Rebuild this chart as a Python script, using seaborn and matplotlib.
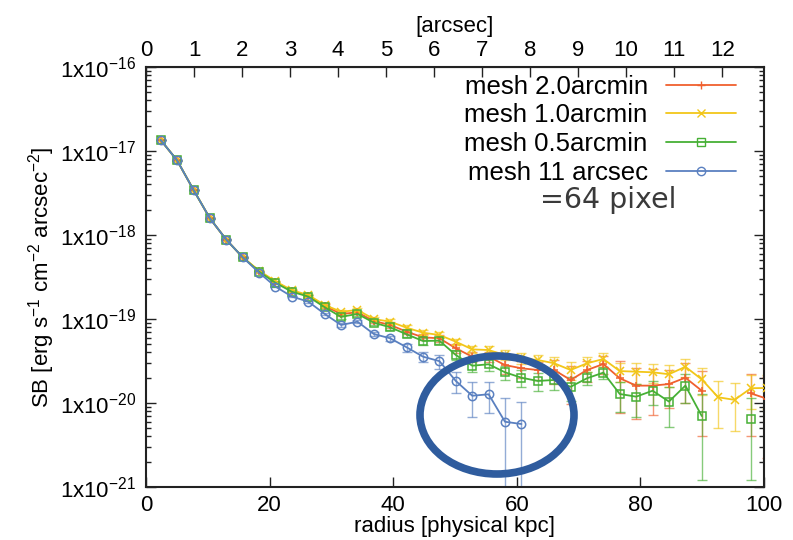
import numpy as np
import pandas as pd
import matplotlib
matplotlib.use('Agg')
import matplotlib.pyplot as plt
import seaborn as sns
from matplotlib.lines import Line2D
from matplotlib.patches import Ellipse
from matplotlib.ticker import FixedLocator, FuncFormatter, LogLocator, NullFormatter

nan = np.nan

# radius of each annulus [physical kpc]
radius = [2.38, 5.03, 7.69, 10.34, 12.99, 15.65, 18.30, 20.95, 23.60, 26.26,
          28.91, 31.56, 34.22, 36.87, 39.52, 42.18, 44.83, 47.48, 50.13, 52.79,
          55.44, 58.09, 60.75, 63.40, 66.05, 68.71, 71.36, 74.01, 76.66, 79.32,
          81.97, 84.62, 87.28, 89.93, 92.58, 95.24, 97.89, 100.54]

sb_2arcmin = [1.35e-17, 7.74e-18, 3.44e-18, 1.58e-18, 8.79e-19, 5.43e-19, 3.70e-19, 2.75e-19, 2.16e-19, 1.89e-19,
              1.43e-19, 1.15e-19, 1.20e-19, 9.46e-20, 8.49e-20, 7.06e-20, 6.05e-20, 5.89e-20, 4.48e-20, 3.56e-20,
              3.56e-20, 2.83e-20, 2.59e-20, 2.47e-20, 2.47e-20, 1.88e-20, 2.47e-20, 2.91e-20, 1.97e-20, 1.61e-20,
              1.61e-20, 1.68e-20, 2.00e-20, 1.40e-20, nan, nan, 1.30e-20, 1.12e-20]
err_2arcmin = [1.3e-19, 8e-20, 3.5e-20, 1.8e-20, 1.1e-20, 8e-21, 7e-21, 6e-21, 6e-21, 6e-21,
               6e-21, 6e-21, 6e-21, 6e-21, 6e-21, 5e-21, 5e-21, 5e-21, 5e-21, 5e-21,
               5e-21, 6e-21, 6e-21, 6e-21, 8e-21, 9e-21, 7e-21, 7e-21, 1.2e-20, 9.7e-21,
               9e-21, 8e-21, 1.0e-20, 1.0e-20, nan, nan, 9e-21, 9e-21]

sb_1arcmin = [1.35e-17, 7.74e-18, 3.44e-18, 1.58e-18, 8.79e-19, 5.43e-19, 3.76e-19, 2.81e-19, 2.20e-19, 1.93e-19,
              1.47e-19, 1.22e-19, 1.28e-19, 1.00e-19, 9.29e-20, 7.87e-20, 6.87e-20, 6.45e-20, 5.37e-20, 4.35e-20,
              4.27e-20, 3.73e-20, 3.40e-20, 3.25e-20, 2.97e-20, 2.47e-20, 2.97e-20, 3.34e-20, 2.40e-20, 2.36e-20,
              2.32e-20, 2.20e-20, 2.70e-20, 1.91e-20, 1.17e-20, 1.09e-20, 1.50e-20, 1.51e-20]
err_1arcmin = [1.3e-19, 8e-20, 3.5e-20, 1.8e-20, 1.1e-20, 8e-21, 7e-21, 6e-21, 6e-21, 6e-21,
               6e-21, 6e-21, 6e-21, 6e-21, 6e-21, 5e-21, 5e-21, 5e-21, 4.5e-21, 4.5e-21,
               5e-21, 5e-21, 5e-21, 5e-21, 6e-21, 6e-21, 6e-21, 6.3e-21, 6e-21, 6.6e-21,
               6e-21, 6.3e-21, 6.4e-21, 6.8e-21, 6.6e-21, 6.3e-21, 6.5e-21, 6.5e-21]

sb_05arcmin = [1.35e-17, 7.74e-18, 3.44e-18, 1.58e-18, 8.79e-19, 5.43e-19, 3.66e-19, 2.70e-19, 2.11e-19, 1.85e-19,
               1.38e-19, 1.06e-19, 1.15e-19, 9.04e-20, 7.96e-20, 6.57e-20, 5.47e-20, 5.52e-20, 3.73e-20, 2.78e-20,
               2.89e-20, 2.32e-20, 2.00e-20, 1.83e-20, 1.88e-20, 1.56e-20, 1.97e-20, 2.30e-20, 1.28e-20, 1.19e-20,
               1.40e-20, 1.04e-20, 1.61e-20, 7.0e-21, nan, nan, 6.4e-21, nan]
err_05arcmin = [1.3e-19, 8e-20, 3.5e-20, 1.8e-20, 1.1e-20, 8e-21, 7e-21, 6e-21, 6e-21, 6e-21,
                6e-21, 5e-21, 5e-21, 5e-21, 5e-21, 5e-21, 5e-21, 5e-21, 5e-21, 4.7e-21,
                4.7e-21, 4.5e-21, 4.5e-21, 4.5e-21, 4.5e-21, 5e-21, 3.5e-21, 3.5e-21, 5e-21, 5e-21,
                4.5e-21, 5.2e-21, 6.2e-21, 5.8e-21, nan, nan, 5.2e-21, nan]

sb_11arcsec = [1.35e-17, 7.74e-18, 3.44e-18, 1.58e-18, 8.79e-19, 5.43e-19, 3.56e-19, 2.43e-19, 1.85e-19, 1.61e-19,
               1.15e-19, 8.49e-20, 9.29e-20, 6.62e-20, 5.89e-20, 4.60e-20, 3.56e-20, 3.15e-20, 1.83e-20, 1.22e-20,
               1.27e-20, 5.98e-21, 5.62e-21, nan, nan, nan, nan, nan, nan, nan,
               nan, nan, nan, nan, nan, nan, nan, nan]
err_11arcsec = [1.3e-19, 8e-20, 3.5e-20, 1.6e-20, 9e-21, 6e-21, 5e-21, 4e-21, 4e-21, 4e-21,
                4e-21, 4e-21, 4e-21, 4e-21, 4.5e-21, 5e-21, 5e-21, 6e-21, 5.3e-21, 5.4e-21,
                5.2e-21, 5.4e-21, 4.7e-21, nan, nan, nan, nan, nan, nan, nan,
                nan, nan, nan, nan, nan, nan, nan, nan]

labels = ['mesh 2.0arcmin', 'mesh 1.0arcmin', 'mesh 0.5arcmin', 'mesh 11 arcsec']
colors = ['#f0602e', '#f2c619', '#46b035', '#5a80c0']
markers = ['+', 'x', 's', 'o']
kpc_per_arcsec = 7.77

sns.set_style('ticks')
plt.rcParams['font.family'] = ['Liberation Sans', 'DejaVu Sans']
plt.rcParams['mathtext.fontset'] = 'custom'
plt.rcParams['mathtext.rm'] = 'Liberation Sans'
plt.rcParams['mathtext.default'] = 'regular'
plt.rcParams['text.color'] = 'black'
plt.rcParams['axes.labelcolor'] = 'black'
plt.rcParams['xtick.color'] = 'black'
plt.rcParams['ytick.color'] = 'black'

frames = []
for lab, sb, err in zip(labels, [sb_2arcmin, sb_1arcmin, sb_05arcmin, sb_11arcsec],
                        [err_2arcmin, err_1arcmin, err_05arcmin, err_11arcsec]):
    d = pd.DataFrame({'radius': radius, 'sb': sb, 'err': err, 'series': lab})
    d['seg'] = d['sb'].isna().cumsum()
    frames.append(d)
df = pd.concat(frames, ignore_index=True)

fig = plt.figure(figsize=(7.93, 5.40), dpi=100)
ax = fig.add_axes([146/793, 1-487/540, 618/793, 420/540])

for lab, c, m in zip(labels, colors, markers):
    d = df[df['series'] == lab].dropna()
    ax.errorbar(d['radius'], d['sb'], yerr=d['err'], fmt='none', ecolor=c,
                elinewidth=1.0, capsize=3.5, capthick=1.0, alpha=0.65, zorder=2)
    sns.lineplot(data=d, x='radius', y='sb', units='seg', estimator=None, sort=False,
                 color=c, marker=m, markersize=6, linewidth=1.3, markerfacecolor='none',
                 markeredgecolor=c, markeredgewidth=1.1, ax=ax, zorder=3)

ax.set_yscale('log')
ax.set_xlim(0, 100)
ax.set_ylim(1e-21, 1e-16)
ax.xaxis.set_major_locator(FixedLocator([0, 20, 40, 60, 80, 100]))
ax.yaxis.set_major_locator(FixedLocator([1e-21, 1e-20, 1e-19, 1e-18, 1e-17, 1e-16]))
ax.yaxis.set_minor_locator(LogLocator(base=10, subs=np.arange(2, 10), numticks=20))
ax.yaxis.set_minor_formatter(NullFormatter())
ax.yaxis.set_major_formatter(FuncFormatter(lambda v, p: r'1x10$^{%d}$' % round(np.log10(v))))
ax.tick_params(which='both', direction='in', right=True, labelsize=16, width=1.0, color='#222222')
ax.tick_params(which='major', length=7)
ax.tick_params(which='minor', length=3.5)
ax.tick_params(axis='x', pad=6)
ax.tick_params(axis='y', pad=7)
for s in ax.spines.values():
    s.set_linewidth(1.5)
    s.set_color('#222222')

ax.set_xlabel('radius [physical kpc]', fontsize=16, labelpad=0)
ax.set_ylabel(r'SB [erg s$^{-1}$ cm$^{-2}$ arcsec$^{-2}$]', fontsize=16, labelpad=2)

sec = ax.secondary_xaxis('top', functions=(lambda k: k / kpc_per_arcsec, lambda a: a * kpc_per_arcsec))
sec.xaxis.set_major_locator(FixedLocator(range(0, 13)))
sec.tick_params(direction='in', length=7, labelsize=16, pad=4, width=1.0, color='#222222')
sec.set_xlabel('[arcsec]', fontsize=16, labelpad=6)

handles = [Line2D([], [], color=c, marker=m, markersize=6, markerfacecolor='none',
                  markeredgecolor=c, linewidth=1.3) for c, m in zip(colors, markers)]
leg = ax.legend(handles, labels, loc='upper right', bbox_to_anchor=(1 - 20/618, 1.0),
                markerfirst=False, frameon=False, fontsize=18.5, handlelength=2.75,
                handletextpad=0.7, labelspacing=0.18, borderaxespad=0, borderpad=0.3)

fig.text(608/793, 1-200/540, '=64 pixel', fontsize=20.5, color='#3a3a3a',
         family='DejaVu Sans', ha='center', va='center')
fig.add_artist(Ellipse((497/793, 1-415/540), 154/793, 118/540, transform=fig.transFigure,
                       fill=False, edgecolor='#2f5c9e', linewidth=5.5, zorder=10))

fig.savefig('out.png', dpi=100, facecolor='white')
